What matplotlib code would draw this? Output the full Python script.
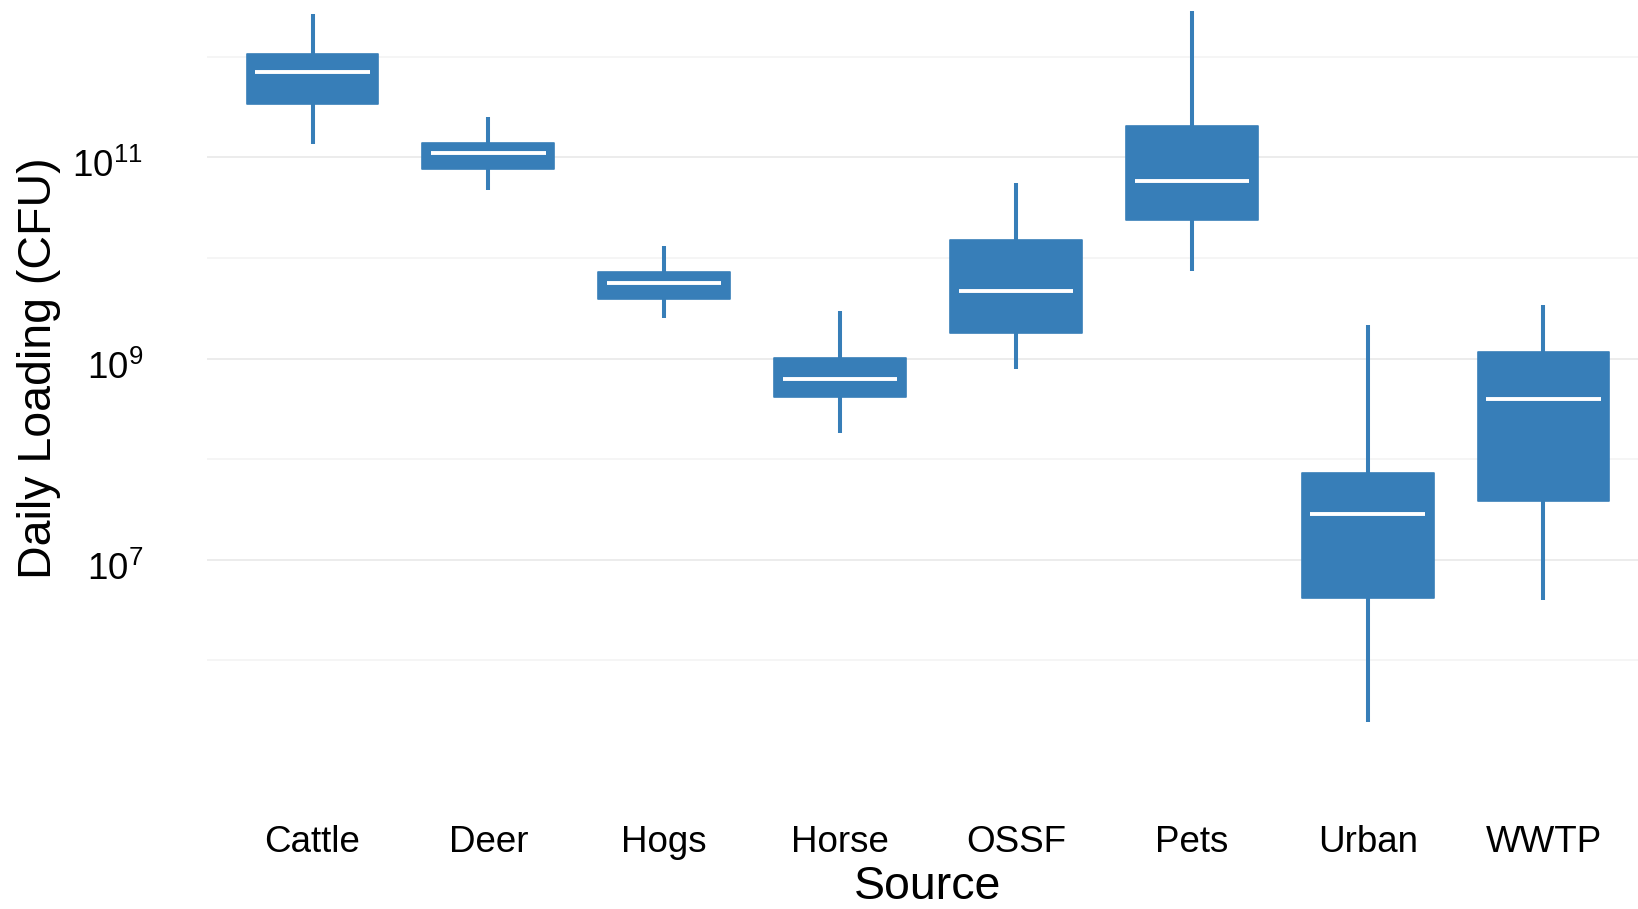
import matplotlib
matplotlib.use('Agg')
from matplotlib import pyplot as plt
from matplotlib.ticker import FixedLocator, FixedFormatter
from matplotlib.transforms import ScaledTranslation

plt.rcParams['font.family'] = ['Liberation Sans', 'DejaVu Sans']
plt.rcParams['mathtext.fontset'] = 'custom'
plt.rcParams['mathtext.rm'] = 'Liberation Sans'
plt.rcParams['mathtext.it'] = 'Liberation Sans:italic'
plt.rcParams['mathtext.bf'] = 'Liberation Sans:bold'

# daily E. coli loading per source (CFU/day)
sources = ['Cattle', 'Deer', 'Hogs', 'Horse', 'OSSF', 'Pets', 'Urban', 'WWTP']
whis_lo = [1.35e11, 4.79e10, 2.51e9, 1.82e8, 7.94e8, 7.41e9, 2.45e5, 3.98e6]
q1 = [3.39e11, 7.59e10, 3.89e9, 4.17e8, 1.78e9, 2.40e10, 4.17e6, 3.80e7]
median = [7.08e11, 1.10e11, 5.62e9, 6.31e8, 4.68e9, 5.82e10, 2.88e7, 3.98e8]
q3 = [1.07e12, 1.38e11, 7.24e9, 1.02e9, 1.51e10, 2.04e11, 7.24e7, 1.17e9]
whis_hi = [2.63e12, 2.51e11, 1.32e10, 2.95e9, 5.50e10, 2.85e12, 2.14e9, 3.39e9]

major_ticks = [1e7, 1e9, 1e11]
major_labels = ['$10^{7}$', '$10^{9}$', '$10^{11}$']
minor_ticks = [1e6, 1e8, 1e10, 1e12]

blue = '#377EB8'
box_w = 0.75

fig = plt.figure(figsize=(16.38, 9.09), dpi=100)
ax = fig.add_axes([207 / 1638, 152 / 909, 1442 / 1638, 757 / 909])

stats = []
for i, s in enumerate(sources):
    stats.append({'label': s, 'whislo': whis_lo[i], 'q1': q1[i], 'med': median[i],
                  'q3': q3[i], 'whishi': whis_hi[i], 'fliers': []})

pos = list(range(1, len(sources) + 1))
ax.bxp(stats, positions=pos, widths=box_w, patch_artist=True, showcaps=False,
       showfliers=False,
       boxprops=dict(facecolor=blue, edgecolor=blue, linewidth=1.2, joinstyle='round'),
       whiskerprops=dict(color=blue, linewidth=2.9, solid_capstyle='butt'),
       medianprops=dict(color=blue, linewidth=0))

# white median bars, a little shorter than the box
inset = 0.05
ax.hlines(median, [p - box_w / 2 + inset for p in pos], [p + box_w / 2 - inset for p in pos],
          colors='white', linewidth=2.8, zorder=5)

ax.set_yscale('log')
ax.set_ylim(10 ** 5.04, 10 ** 12.564)
ax.set_xlim(0.4, 8.6)

ax.yaxis.set_major_locator(FixedLocator(major_ticks))
ax.yaxis.set_major_formatter(FixedFormatter(major_labels))
ax.yaxis.set_minor_locator(FixedLocator(minor_ticks))
ax.yaxis.set_minor_formatter(FixedFormatter([''] * len(minor_ticks)))
ax.set_xticks(pos)
ax.set_xticklabels(sources)

ax.grid(axis='y', which='major', color='#EBEBEB', linewidth=1.3)
ax.grid(axis='y', which='minor', color='#F5F5F5', linewidth=1.3)
ax.grid(axis='x', visible=False)
ax.set_axisbelow(True)

for sp in ax.spines.values():
    sp.set_visible(False)
ax.tick_params(axis='both', which='both', length=0)
ax.tick_params(axis='x', labelsize=26.5, pad=49)
ax.tick_params(axis='y', labelsize=26.5, pad=46)

# nudge the power-of-ten labels down a little
shift = ScaledTranslation(0, -6 / 100, fig.dpi_scale_trans)
for lab in ax.get_yticklabels():
    lab.set_transform(lab.get_transform() + shift)

fig.text(39 / 1638, 1 - 368 / 909, 'Daily Loading (CFU)', rotation=90,
         ha='center', va='center', fontsize=33.5)
fig.text(928 / 1638, 1 - 899 / 909, 'Source', ha='center', va='baseline', fontsize=33.5)

fig.savefig('out.png', dpi=100, facecolor='white')
